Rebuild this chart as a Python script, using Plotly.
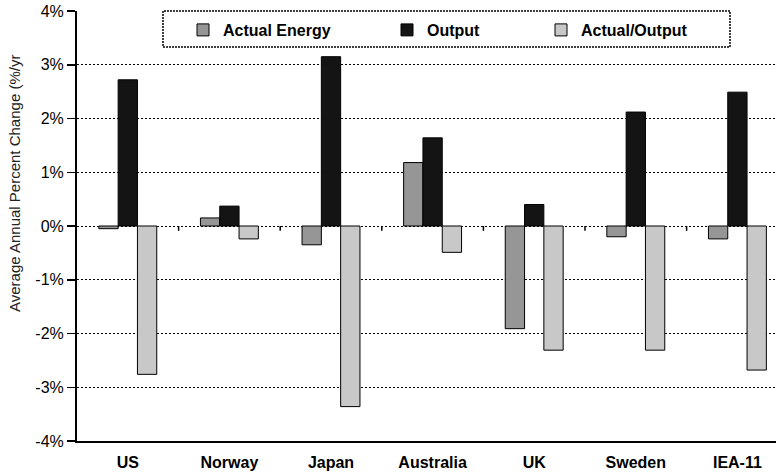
import plotly.graph_objects as go

categories = ["US", "Norway", "Japan", "Australia", "UK", "Sweden", "IEA-11"]
actual_energy = [-0.05, 0.15, -0.35, 1.18, -1.91, -0.20, -0.24]
output = [2.72, 0.37, 3.15, 1.64, 0.40, 2.12, 2.49]
actual_output = [-2.76, -0.24, -3.36, -0.49, -2.31, -2.31, -2.68]
y_ticks = [-4, -3, -2, -1, 0, 1, 2, 3, 4]

FONT = "Liberation Sans, Arial, sans-serif"
xs = list(range(len(categories)))

series = [
    ("Actual Energy", actual_energy, "#969696", "legend"),
    ("Output", output, "#141414", "legend2"),
    ("Actual/Output", actual_output, "#c8c8c8", "legend3"),
]

fig = go.Figure()
for name, vals, col, lg in series:
    fig.add_trace(go.Bar(
        x=xs, y=vals, name=name, legend=lg,
        marker=dict(color=col, line=dict(color="#000000", width=1)),
    ))

W, H = 776, 473
L, R, T, B = 77, 0, 11, 32
pw, ph = W - L - R, H - T - B
cat_px = 101.6
x_end = -0.5 + pw / cat_px

def px_x(p):
    return (p - L) / pw

def px_y(p):
    return (H - B - p) / ph

legend_common = dict(
    orientation="h", yanchor="middle", xanchor="left",
    bgcolor="rgba(0,0,0,0)", borderwidth=0,
    font=dict(family=FONT, size=16, color="#000000", weight="bold"),
)

shapes = []
# dotted legend frame
shapes.append(dict(type="rect", xref="paper", yref="paper",
                   x0=px_x(163), x1=px_x(730), y0=px_y(47), y1=1.0,
                   line=dict(color="#000000", width=1.5, dash="2px,1px"),
                   fillcolor="white", layer="above"))
# small tick marks on the zero line between categories
for i in range(len(categories) - 1):
    shapes.append(dict(type="line", xref="x", yref="y",
                       x0=i + 0.5, x1=i + 0.5, y0=0, y1=-0.09,
                       line=dict(color="#000000", width=1.5)))

fig.update_layout(
    width=W, height=H,
    margin=dict(l=L, r=R, t=T, b=B, autoexpand=False),
    paper_bgcolor="white", plot_bgcolor="white",
    barmode="group", bargap=0.43, bargroupgap=0,
    font=dict(family=FONT, color="#000000"),
    showlegend=True,
    legend=dict(x=px_x(183), y=px_y(30), **legend_common),
    legend2=dict(x=px_x(387), y=px_y(30), **legend_common),
    legend3=dict(x=px_x(541), y=px_y(30), **legend_common),
    shapes=shapes,
    annotations=[dict(
        text="Average Annual Percent Change (%/yr", textangle=-90,
        xref="paper", yref="paper", x=px_x(15), y=px_y(184),
        xanchor="center", yanchor="middle", showarrow=False,
        font=dict(family=FONT, size=15, color="#222222"),
    )],
    xaxis=dict(
        range=[-0.5, x_end], tickvals=xs, ticktext=categories,
        showgrid=False, zeroline=False, automargin=False,
        showline=True, linecolor="#000000", linewidth=2,
        ticks="", ticklen=0, ticklabelstandoff=6,
        tickfont=dict(family=FONT, size=16, color="#000000", weight="bold"),
        fixedrange=True,
    ),
    yaxis=dict(
        range=[-4, 4], tickvals=y_ticks, ticktext=[f"{v}%" for v in y_ticks],
        showgrid=True, gridcolor="#000000", gridwidth=1, griddash="2px,2px",
        zeroline=False, automargin=False,
        showline=True, linecolor="#000000", linewidth=2,
        ticks="outside", ticklen=8, tickwidth=1.5, tickcolor="#000000",
        tickfont=dict(family=FONT, size=16, color="#000000"),
        fixedrange=True,
    ),
)

fig.write_html("out.html",
               config={"displayModeBar": False, "staticPlot": True},
               post_script="document.body.style.margin='0px';"
                           "document.body.style.overflow='hidden';")
